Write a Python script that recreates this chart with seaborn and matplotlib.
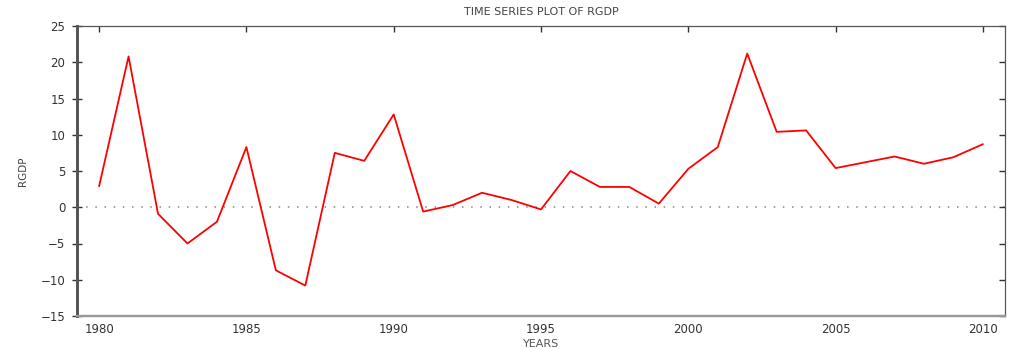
import pandas as pd
import matplotlib.pyplot as plt
import seaborn as sns

years = list(range(1980, 2011))
rgdp = [2.9, 20.8, -0.9, -5.0, -2.0, 8.3, -8.7, -10.8, 7.5, 6.4, 12.8,
        -0.6, 0.3, 2.0, 1.0, -0.3, 5.0, 2.8, 2.8, 0.5, 5.3,
        8.3, 21.2, 10.4, 10.6, 5.4, 6.2, 7.0, 6.0, 6.9, 8.7]
xticks = [1980, 1985, 1990, 1995, 2000, 2005, 2010]
yticks = [-15, -10, -5, 0, 5, 10, 15, 20, 25]

df = pd.DataFrame({'YEARS': years, 'RGDP': rgdp})

sns.set_style('white')
plt.rcParams['font.family'] = ['DejaVu Sans']

fig = plt.figure(figsize=(10.12, 3.49), dpi=100)
ax = fig.add_axes([77 / 1012, 1 - 316 / 349, 928 / 1012, 290 / 349])

# dotted zero line
ax.axhline(0, color='#888888', linestyle=(0, (1, 5)), linewidth=1.1, zorder=1)
sns.lineplot(x='YEARS', y='RGDP', data=df, color='#ff0000', linewidth=1.3, ax=ax, zorder=2)

ax.set_xlim(1979.25, 2010.75)
ax.set_ylim(-15, 25)
ax.set_xticks(xticks)
ax.set_yticks(yticks)
ax.tick_params(axis='x', direction='in', length=4, width=1, colors='#333333',
               labelsize=8.5, top=True, pad=5)
# left ticks cross the spine
ax.tick_params(axis='y', direction='inout', length=7, width=1, colors='#333333',
               labelsize=8.5, right=False, pad=5)

# right side ticks point inward
ax2 = ax.twinx()
ax2.set_ylim(-15, 25)
ax2.set_yticks(yticks)
ax2.tick_params(axis='y', direction='in', length=4, width=1, colors='#333333', labelright=False)
ax2.grid(False)

for a in (ax, ax2):
    for side in ['top', 'right']:
        a.spines[side].set_color('#555555')
        a.spines[side].set_linewidth(0.8)
    a.spines['left'].set_color('#555555')
    a.spines['left'].set_linewidth(2)
    a.spines['bottom'].set_color('#999999')
    a.spines['bottom'].set_linewidth(1.6)

ax.set_title('TIME SERIES PLOT OF RGDP', fontsize=8, color='#444444', pad=8)
ax.set_xlabel('YEARS', fontsize=8, color='#555555', labelpad=2)
ax.set_ylabel('RGDP', fontsize=7.5, color='#444444', labelpad=9)

plt.savefig('out.png', dpi=100)
